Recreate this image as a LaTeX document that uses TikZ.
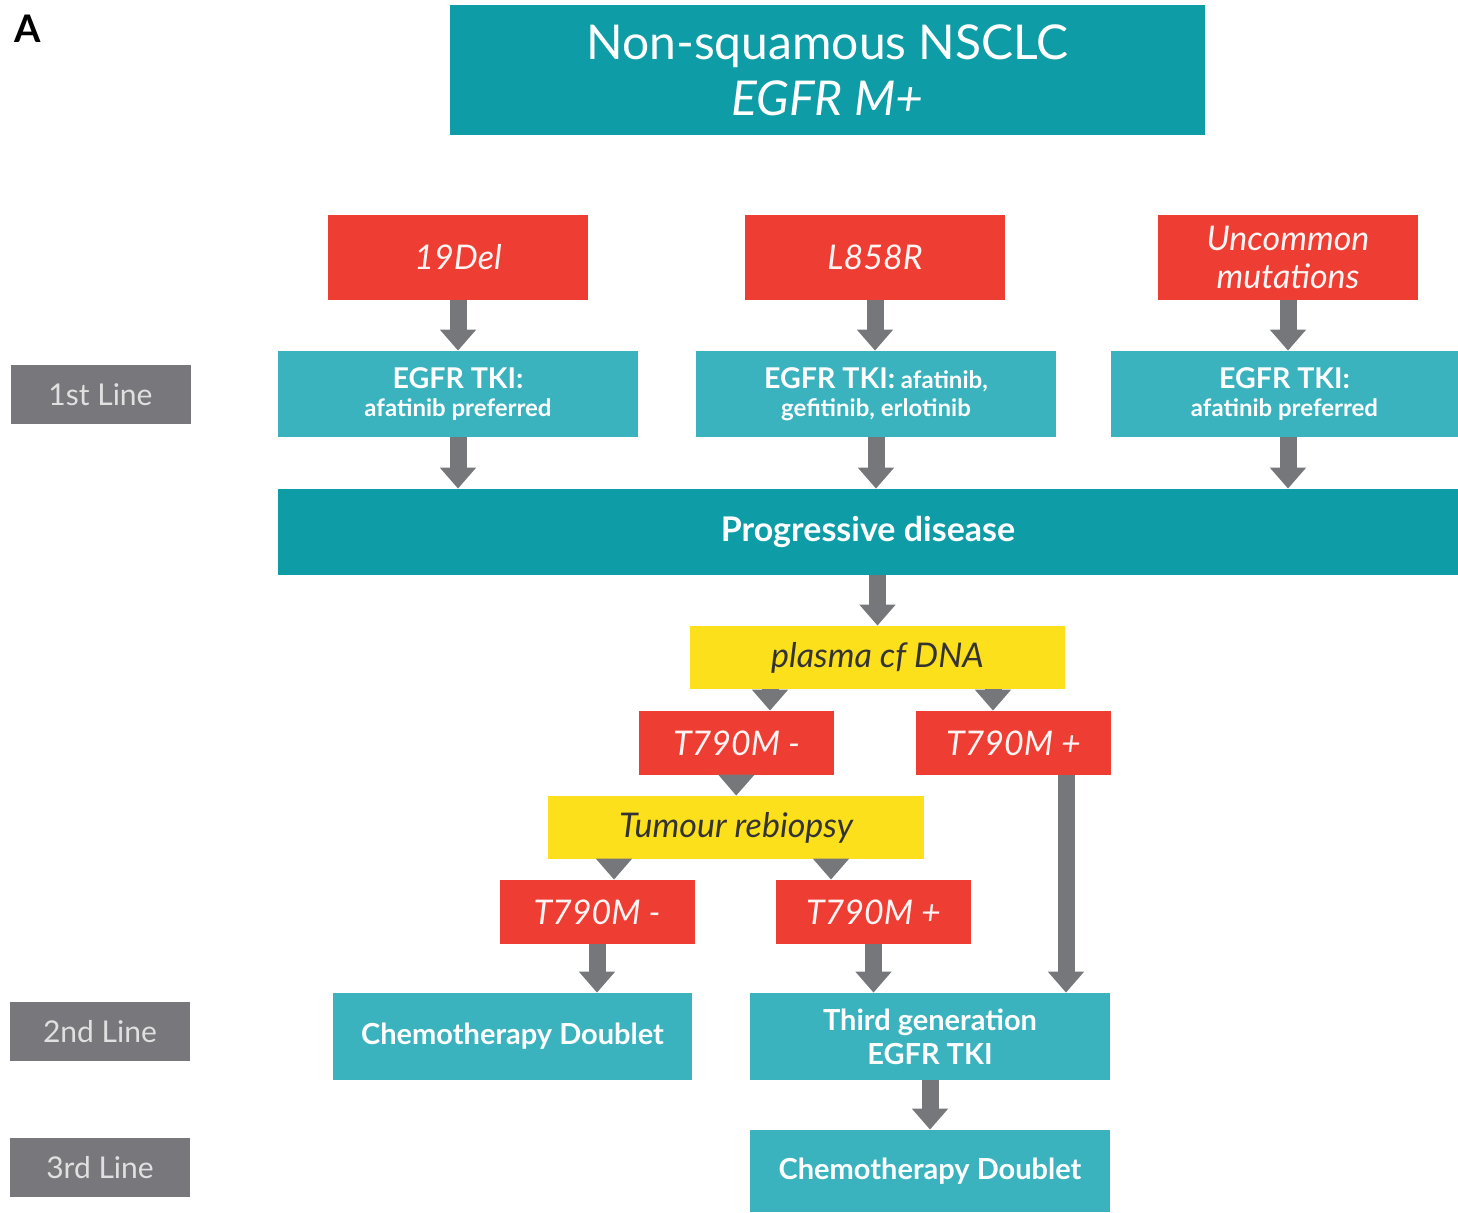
\documentclass[tikz,border=0pt]{standalone}
\usepackage{fontspec}
\setmainfont{Lato}
\usepackage{xcolor}
\usepackage{tikz}
\usetikzlibrary{arrows.meta,positioning,calc}
\definecolor{darkteal}{RGB}{14,157,166}
\definecolor{lightteal}{RGB}{58,179,191}
\definecolor{mutred}{RGB}{238,62,51}
\definecolor{testyellow}{RGB}{253,224,28}
\definecolor{linegray}{RGB}{120,120,124}
\definecolor{arrowgray}{RGB}{118,119,123}

\begin{document}
\begin{tikzpicture}[x=0.5pt,y=-0.5pt,
  box/.style={inner sep=0pt,align=center,text=white},
  darkbox/.style={box,fill=darkteal,minimum height=43pt},
  tealbox/.style={box,fill=lightteal,minimum width=180pt,minimum height=43pt,font=\bfseries\fontsize{14.5}{17}\selectfont},
  tkibox/.style={tealbox,font=\bfseries\fontsize{12}{14}\selectfont},
  redbox/.style={box,fill=mutred,text=white!94!mutred,minimum width=130pt,minimum height=42.5pt,font=\itshape\fontsize{17}{19}\selectfont},
  resultbox/.style={redbox,minimum width=97.5pt,minimum height=32pt},
  yellowbox/.style={box,fill=testyellow,text=black!80,minimum width=188pt,minimum height=31.5pt,font=\itshape\fontsize{17}{19}\selectfont},
  linebox/.style={box,fill=linegray,text=white!88!black,minimum width=90pt,minimum height=29.5pt,font=\fontsize{15}{17}\selectfont},
  arr/.style={draw=arrowgray,line width=8.5pt,-{Triangle[width=17.5pt,length=10.5pt]}}]
\useasboundingbox (0,0) rectangle (1458,1212);
\node[font=\bfseries\fontsize{19}{20}\selectfont](panel) at (28,29){A};
% header and mutation types
\node[darkbox,minimum width=377.5pt,minimum height=65pt,font=\fontsize{24}{28}\selectfont](title) at (827.5,70){Non-squamous NSCLC\\\textit{EGFR M+}};
\node[redbox](del19) at (458,257.5){19Del};
\node[redbox](l858r) at (875,257.5){L858R};
\node[redbox](uncommon) at (1288,257.5){Uncommon\\mutations};
% first line
\node[linebox](line1) at (100.5,394.5){1st Line};
\node[tkibox](tki1) at (458,394){{\fontsize{14.3}{14}\selectfont EGFR TKI:}\\afatinib preferred};
\node[tkibox](tki2) at (876,394){{\fontsize{14.3}{14}\selectfont EGFR TKI:} afatinib,\\gefitinib, erlotinib};
\node[tkibox,minimum width=173.5pt](tki3) at (1284.5,394){{\fontsize{14.3}{14}\selectfont EGFR TKI:}\\afatinib preferred};
\node[darkbox,minimum width=590pt,font=\bfseries\fontsize{17}{19}\selectfont](prog) at (868,532){Progressive disease};
% testing for T790M
\node[yellowbox,minimum width=187.5pt](plasma) at (877.5,657.5){plasma cf DNA};
\node[resultbox](t790neg1) at (736.5,743){T790M -};
\node[resultbox](t790pos1) at (1013.5,743){T790M +};
\node[yellowbox](rebiopsy) at (736,827.5){Tumour rebiopsy};
\node[resultbox](t790neg2) at (597,912){T790M -};
\node[resultbox](t790pos2) at (873.5,912){T790M +};
% second and third line
\node[linebox](line2) at (100,1031.5){2nd Line};
\node[tealbox,minimum width=179.5pt,minimum height=43.5pt](chemo2) at (512.5,1036.5){Chemotherapy Doublet};
\node[tealbox,minimum height=43.5pt](third) at (930,1036.5){Third generation\\EGFR TKI};
\node[linebox](line3) at (100,1167.5){3rd Line};
\node[tealbox,minimum height=41pt](chemo3) at (930,1171){Chemotherapy Doublet};
\draw[arr](del19)--(tki1); \draw[arr](l858r)--(l858r |- tki2.north); \draw[arr](uncommon)--(uncommon |- tki3.north);
\draw[arr](tki1)--(tki1 |- prog.north); \draw[arr](tki2)--(tki2 |- prog.north); \draw[arr](tki3.south -| uncommon)--(prog.north -| uncommon);
\draw[arr](plasma |- prog.south)--(plasma);
\draw[arr](plasma.south -| 770,0)--(t790neg1.north -| 770,0); \draw[arr](plasma.south -| 993,0)--(t790pos1.north -| 993,0);
\draw[arr](t790neg1)--(rebiopsy); \draw[arr](t790pos1.south -| 1066,0)--(third.north -| 1066,0);
\draw[arr](rebiopsy.south -| 614,0)--(t790neg2.north -| 614,0); \draw[arr](rebiopsy.south -| 831,0)--(t790pos2.north -| 831,0);
\draw[arr](t790neg2)--(t790neg2 |- chemo2.north); \draw[arr](t790pos2)--(t790pos2 |- third.north);
\draw[arr](third)--(chemo3);
\end{tikzpicture}
\end{document}
